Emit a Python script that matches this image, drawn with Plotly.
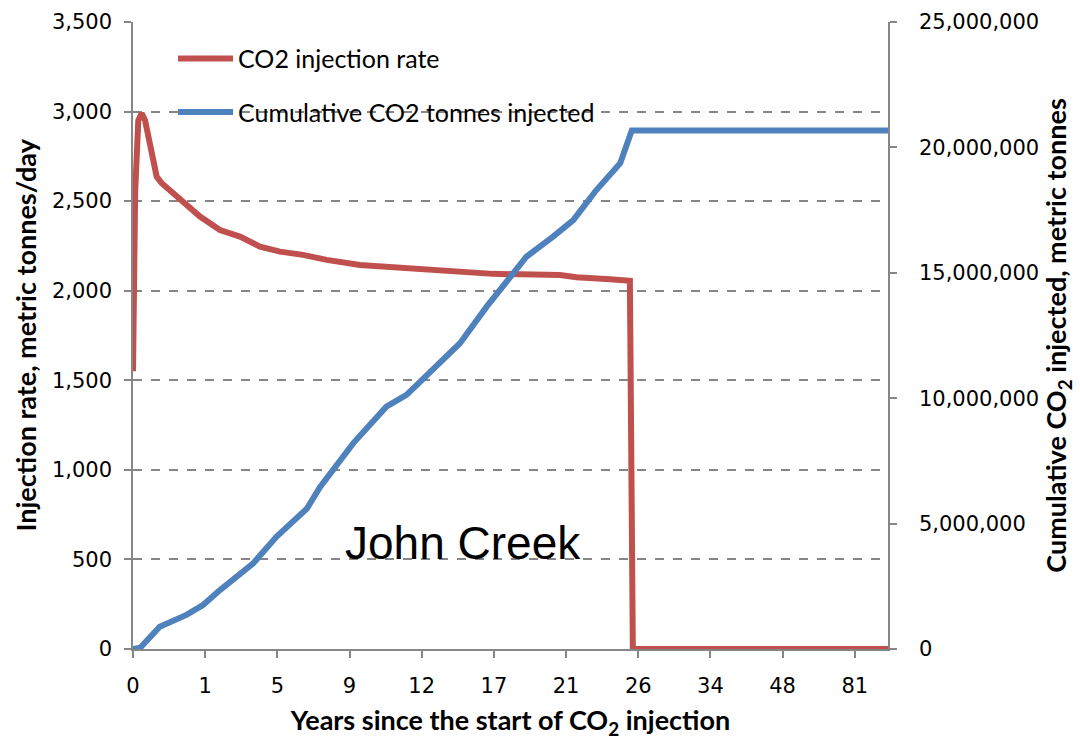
import plotly.graph_objects as go

# Reporting periods on the category axis; one label per period boundary
period_labels = ["0", "1", "5", "9", "12", "17", "21", "26", "34", "48", "81"]
axis_end = 10.46

# Injection rate (metric tonnes/day) against position along the period axis
rate_pos = [0.0, 0.01, 0.02, 0.03, 0.073, 0.12, 0.166, 0.259, 0.328, 0.398, 0.558,
            0.744, 0.928, 1.205, 1.482, 1.759, 1.99, 2.036, 2.355, 2.683, 3.144,
            3.601, 4.068, 4.529, 4.986, 5.914, 6.145, 6.607, 6.884, 6.925, 10.46]
rate_tpd = [1550, 1900, 2000, 2550, 2950, 2990, 2953, 2749, 2637, 2600, 2544,
            2488, 2414, 2339, 2302, 2246, 2218, 2218, 2200, 2172, 2144,
            2131, 2120, 2107, 2094, 2088, 2075, 2064, 2056, 0, 0]

# Cumulative CO2 injected (metric tonnes)
cum_pos = [0.0, 0.1, 0.37, 0.74, 0.97, 1.205, 1.666, 1.99, 2.41, 2.59, 3.05,
           3.51, 3.79, 4.21, 4.53, 4.9, 5.18, 5.45, 5.82, 6.1, 6.19, 6.42, 6.75,
           6.91, 10.46]
cum_tonnes = [0, 50_000, 889_000, 1_360_000, 1_750_000, 2_350_000, 3_420_000,
              4_480_000, 5_600_000, 6_450_000, 8_200_000, 9_660_000,
              10_130_000, 11_260_000, 12_190_000, 13_650_000, 14_710_000,
              15_640_000, 16_440_000, 17_100_000, 17_440_000, 18_300_000,
              19_370_000, 20_670_000, 20_670_000]

RED = "#C0504D"
BLUE = "#4F81BD"
AXIS_GRAY = "#868686"
TICK_FONT = dict(family="DejaVu Sans", size=21, color="black")
TITLE_FONT = dict(family="Lato", size=27, color="black", weight="bold")

fig = go.Figure()
fig.add_trace(go.Scatter(
    x=rate_pos, y=rate_tpd, mode="lines", name="CO2 injection rate",
    line=dict(color=RED, width=6), legendgroup="a", yaxis="y",
))
fig.add_trace(go.Scatter(
    x=cum_pos, y=cum_tonnes, mode="lines", name="Cumulative CO2 tonnes injected",
    line=dict(color=BLUE, width=6), legendgroup="b", yaxis="y2",
))

fig.add_annotation(
    x=4.57, y=592, xref="x", yref="y", text="John Creek", showarrow=False,
    font=dict(family="Liberation Sans", size=46, color="black"),
)

# Left axis title, set slightly further out than the automatic placement
fig.add_annotation(
    x=-0.143, y=0.5, xref="paper", yref="paper", text="Injection rate, metric tonnes/day",
    textangle=-90, showarrow=False, xanchor="center", yanchor="middle",
    font=TITLE_FONT,
)

fig.update_layout(
    width=1080, height=740,
    margin=dict(l=133, r=192, t=22, b=91),
    paper_bgcolor="white", plot_bgcolor="white",
    showlegend=True,
    legend=dict(
        x=0.053, y=0.978, xanchor="left", yanchor="top",
        font=dict(family="Lato", size=25, color="black"),
        traceorder="grouped", tracegroupgap=18, itemwidth=55,
        bgcolor="rgba(0,0,0,0)",
    ),
    xaxis=dict(
        range=[0, axis_end], tickmode="array",
        tickvals=list(range(len(period_labels))), ticktext=period_labels,
        showgrid=False, zeroline=False, automargin=False,
        showline=True, linecolor=AXIS_GRAY, linewidth=1.5,
        ticks="outside", ticklen=7, tickcolor=AXIS_GRAY, tickwidth=1.5,
        tickfont=TICK_FONT, ticklabelstandoff=10,
        title=dict(text="Years since the start of CO<sub>2</sub> injection",
                   font=TITLE_FONT, standoff=14),
    ),
    yaxis=dict(
        range=[0, 3500], dtick=500, tickformat=",",
        showgrid=True, gridcolor=AXIS_GRAY, gridwidth=1.5, griddash="dash",
        zeroline=False, automargin=False,
        showline=True, linecolor=AXIS_GRAY, linewidth=1.5,
        ticks="outside", ticklen=7, tickcolor=AXIS_GRAY, tickwidth=1.5,
        tickfont=TICK_FONT, ticklabelstandoff=8,
    ),
    yaxis2=dict(
        range=[0, 25_000_000], dtick=5_000_000, tickformat=",",
        overlaying="y", side="right", showgrid=False, zeroline=False,
        automargin=False,
        showline=True, linecolor=AXIS_GRAY, linewidth=1.5,
        ticks="outside", ticklen=7, tickcolor=AXIS_GRAY, tickwidth=1.5,
        tickfont=TICK_FONT, ticklabelstandoff=18,
        title=dict(text="Cumulative CO<sub>2</sub> injected, metric tonnes",
                   font=TITLE_FONT, standoff=2),
    ),
)

fig.write_html("out.html")
